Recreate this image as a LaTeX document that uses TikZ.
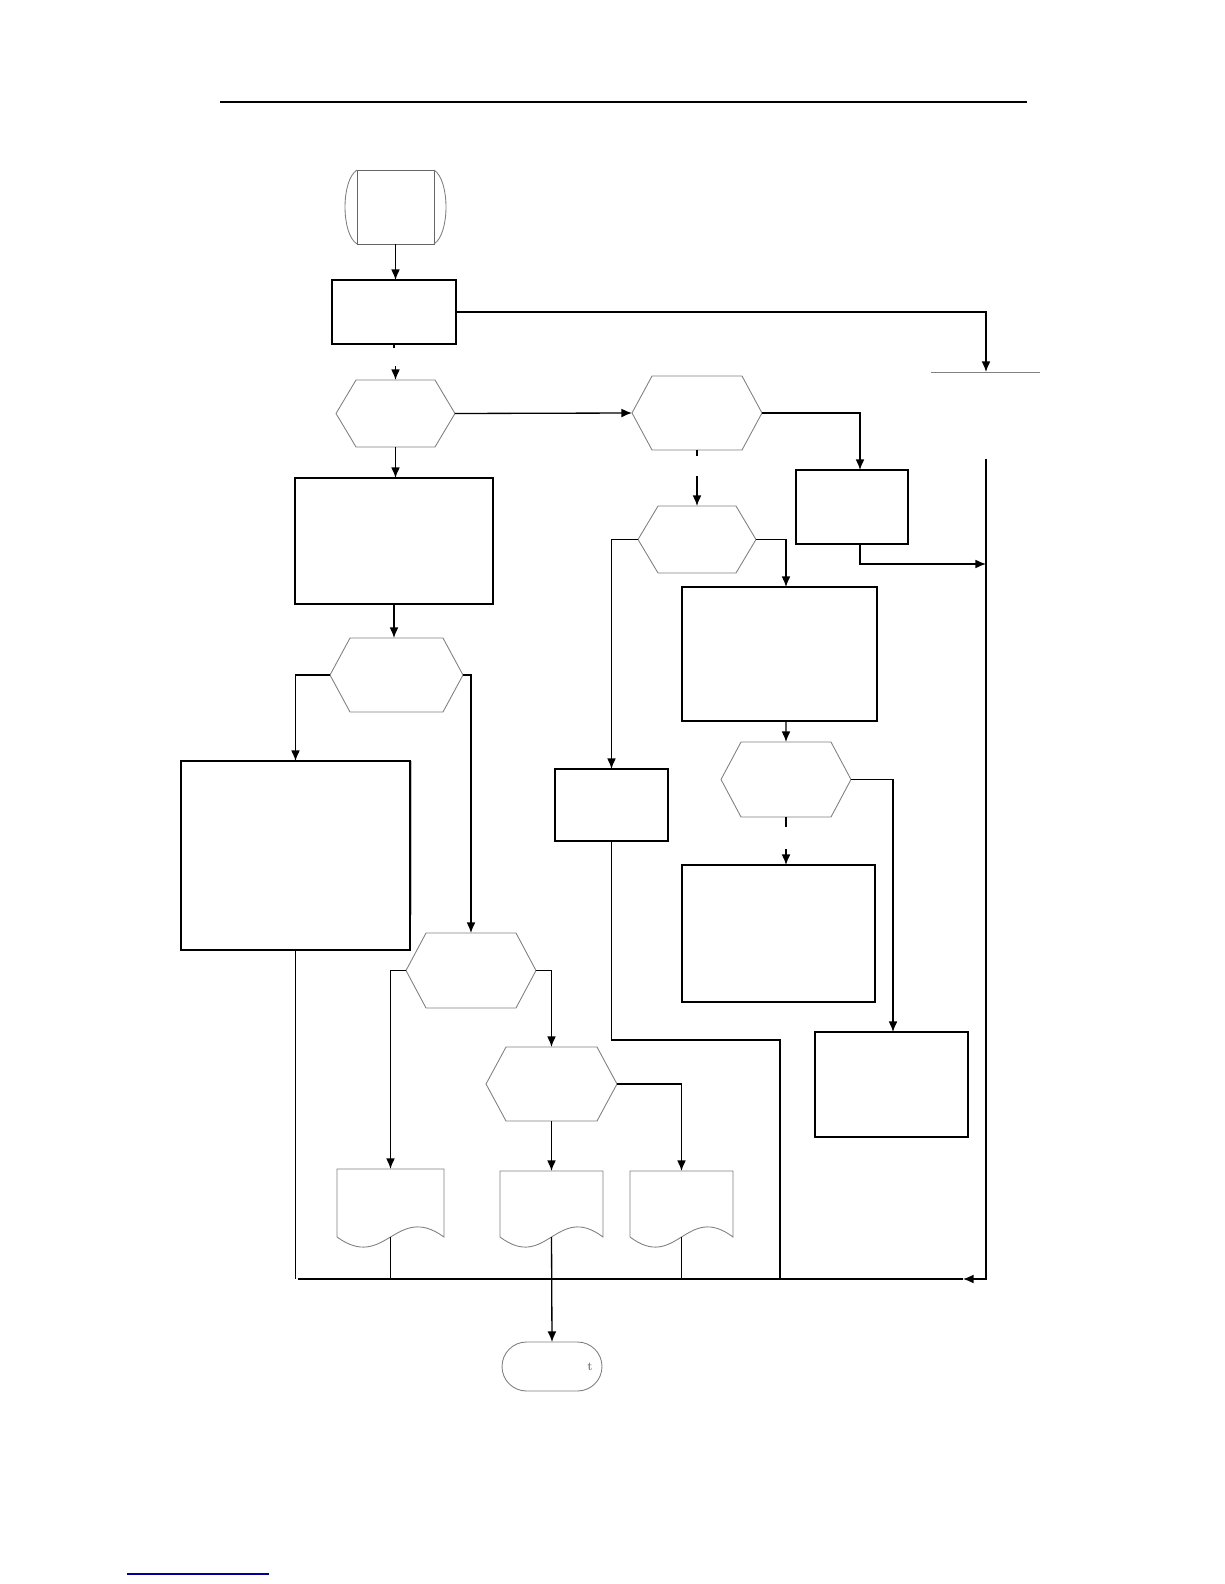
\documentclass[tikz,border=0pt]{standalone}
\usepackage{tikz}
\usetikzlibrary{arrows.meta, calc, positioning}

% shapes drawn around an empty rectangle node
\newcommand{\hexcut}{0.4cm}
\newcommand{\hexnode}[4]{%
  \node[hexa, minimum width=#3, minimum height=#4] (#1) at #2 {};
  \draw[outline] (#1.west) -- ([xshift=\hexcut]#1.north west) -- ([xshift=-\hexcut]#1.north east)
    -- (#1.east) -- ([xshift=-\hexcut]#1.south east) -- ([xshift=\hexcut]#1.south west) -- cycle;}
\newcommand{\docnode}[4]{%
  \node[hexa, minimum width=#3, minimum height=#4] (#1) at #2 {};
  \draw[outline] (#1.south west) -- (#1.north west) -- (#1.north east) -- (#1.south east)
    .. controls ($(#1.south west)!0.55!(#1.south east)+(0,-35)$) and ($(#1.south west)!0.45!(#1.south east)+(0,35)$) .. (#1.south west);}

\begin{document}
\begin{tikzpicture}[
        x=0.02cm, y=-0.02cm,
        box/.style={rectangle, draw, inner sep=0pt, outer sep=0pt, line width=0.75pt},
        hexa/.style={rectangle, inner sep=0pt, outer sep=0pt},
        outline/.style={draw=gray, line width=0.5pt},
        line/.style={draw, -{Latex[length=6pt, width=5pt]}, line width=0.75pt},
        wire/.style={draw, line width=0.75pt}
    ]
        \useasboundingbox (0,0) rectangle (1224,1584);
        \draw[line width=1pt] (220,102) -- (1027,102);
        \draw[blue!60!black, line width=1pt] (127,1574) -- (269,1574);

        % Start
        \node [hexa, draw=gray!80!black, line width=0.5pt, minimum width=1.54cm, minimum height=1.48cm] (start) at (395.5,207) {};
        \draw[outline] (start.north west) .. controls ($(start.north west)+(-16,10)$) and ($(start.south west)+(-16,-10)$) .. (start.south west);
        \draw[outline] (start.north east) .. controls ($(start.north east)+(16,10)$) and ($(start.south east)+(16,-10)$) .. (start.south east);

        % Left column
        \node [box, minimum width=2.48cm, minimum height=1.28cm] (box1) at (394,312) {};
        \hexnode{hexA}{(395.5,413.5)}{2.38cm}{1.34cm}
        \node [box, minimum width=3.96cm, minimum height=2.52cm] (boxL) at (394,541) {};
        \hexnode{hexE}{(396.5,675)}{2.66cm}{1.48cm}
        \node [box, minimum width=4.58cm, minimum height=3.78cm] (bigbox) at (295.5,855.5) {};
        \draw[draw=gray!50, line width=0.5pt] (411,761) -- (411,915);
        \hexnode{hexF}{(471,970.5)}{2.6cm}{1.5cm}
        \hexnode{hexG}{(551.5,1084)}{2.62cm}{1.48cm}
        \docnode{doc1}{(390.5,1203)}{2.14cm}{1.36cm}
        \docnode{doc2}{(551.5,1204)}{2.06cm}{1.32cm}
        \docnode{doc3}{(681.5,1204)}{2.06cm}{1.32cm}
        \node [hexa, draw=gray, line width=0.5pt, rounded corners=0.49cm, minimum width=2cm, minimum height=0.98cm] (finish) at (552,1366.5) {};
        \node [font=\scriptsize, text=gray!70!black] (mark) at (590,1367) {t};

        % Right column
        \hexnode{hexB}{(697,413)}{2.6cm}{1.48cm}
        \hexnode{hexC}{(697,539.5)}{2.36cm}{1.34cm}
        \node [box, minimum width=2.24cm, minimum height=1.48cm] (boxR) at (852,507) {};
        \node [box, minimum width=2.26cm, minimum height=1.44cm] (boxS) at (611.5,805) {};
        \node [box, minimum width=3.9cm, minimum height=2.68cm] (boxM) at (779.5,654) {};
        \hexnode{hexD}{(786,779.5)}{2.6cm}{1.5cm}
        \node [box, minimum width=3.86cm, minimum height=2.74cm] (boxN) at (778.5,933.5) {};
        \node [box, minimum width=3.06cm, minimum height=2.1cm] (boxP) at (891.5,1084.5) {};
        \draw[draw=gray, line width=0.5pt] (931,372) -- (1040,372);

        % Junctions
        \coordinate (sink) at (986,372);
        \coordinate (rtop) at (986,459);
        \coordinate (tip) at (963,1279);
        \coordinate (bl) at (298,1279);
        \coordinate (jS) at (780,1040);
        \coordinate (jSb) at (780,1279);
        \coordinate (jR) at (986,564);

        % Edges
        \path [line] (start.south) -- (start.south |- box1.north);
        \path [line] (box1.east) -| (sink);
        \path [wire] (box1.south) -- ++(0,4);
        \path [line] ($(hexA.north)+(0,-14)$) -- (hexA.north);
        \path [line] (hexA.east) -- (hexB.west);
        \path [line] (hexA.south) -- (hexA.south |- boxL.north);
        \path [line] (boxL.south) -- (boxL.south |- hexE.north);
        \path [line] (hexE.west) -| (bigbox.north);
        \path [wire] (bigbox.south) -- (bigbox.south |- bl);
        \path [line] (hexE.east) -| (hexF.north);
        \path [line] (hexF.west) -| (doc1.north);
        \path [line] (hexF.east) -| (hexG.north);
        \path [line] (hexG.east) -| (doc3.north);
        \path [line] (hexG.south) -- (doc2.north);
        \path [wire] (doc1.south) -- (doc1.south |- bl);
        \path [wire] (doc3.south) -- (doc3.south |- bl);
        \path [line] (doc2.south) -- (finish.north);

        \path [line] (hexB.east) -| ([xshift=0.16cm]boxR.north);
        \path [line] ([xshift=0.16cm]boxR.south) |- (jR);
        \path [line] (rtop) |- (tip);
        \path [wire] (tip) -- (bl);
        \path [wire] (hexB.south) -- ++(0,6);
        \path [line] ($(hexC.north)+(0,-30)$) -- (hexC.north);
        \path [line] (hexC.west) -| (boxS.north);
        \path [wire] (boxS.south) |- (jS) -- (jSb);
        \path [line] (hexC.east) -| ([xshift=0.13cm]boxM.north);
        \path [line] ([xshift=0.13cm]boxM.south) -- (hexD.north);
        \path [wire] (hexD.south) -- ++(0,10);
        \path [line] ($(hexD.south)+(0,32)$) -- (hexD.south |- boxN.north);
        \path [line] (hexD.east) -| ([xshift=0.03cm]boxP.north);
    \end{tikzpicture}
\end{document}
